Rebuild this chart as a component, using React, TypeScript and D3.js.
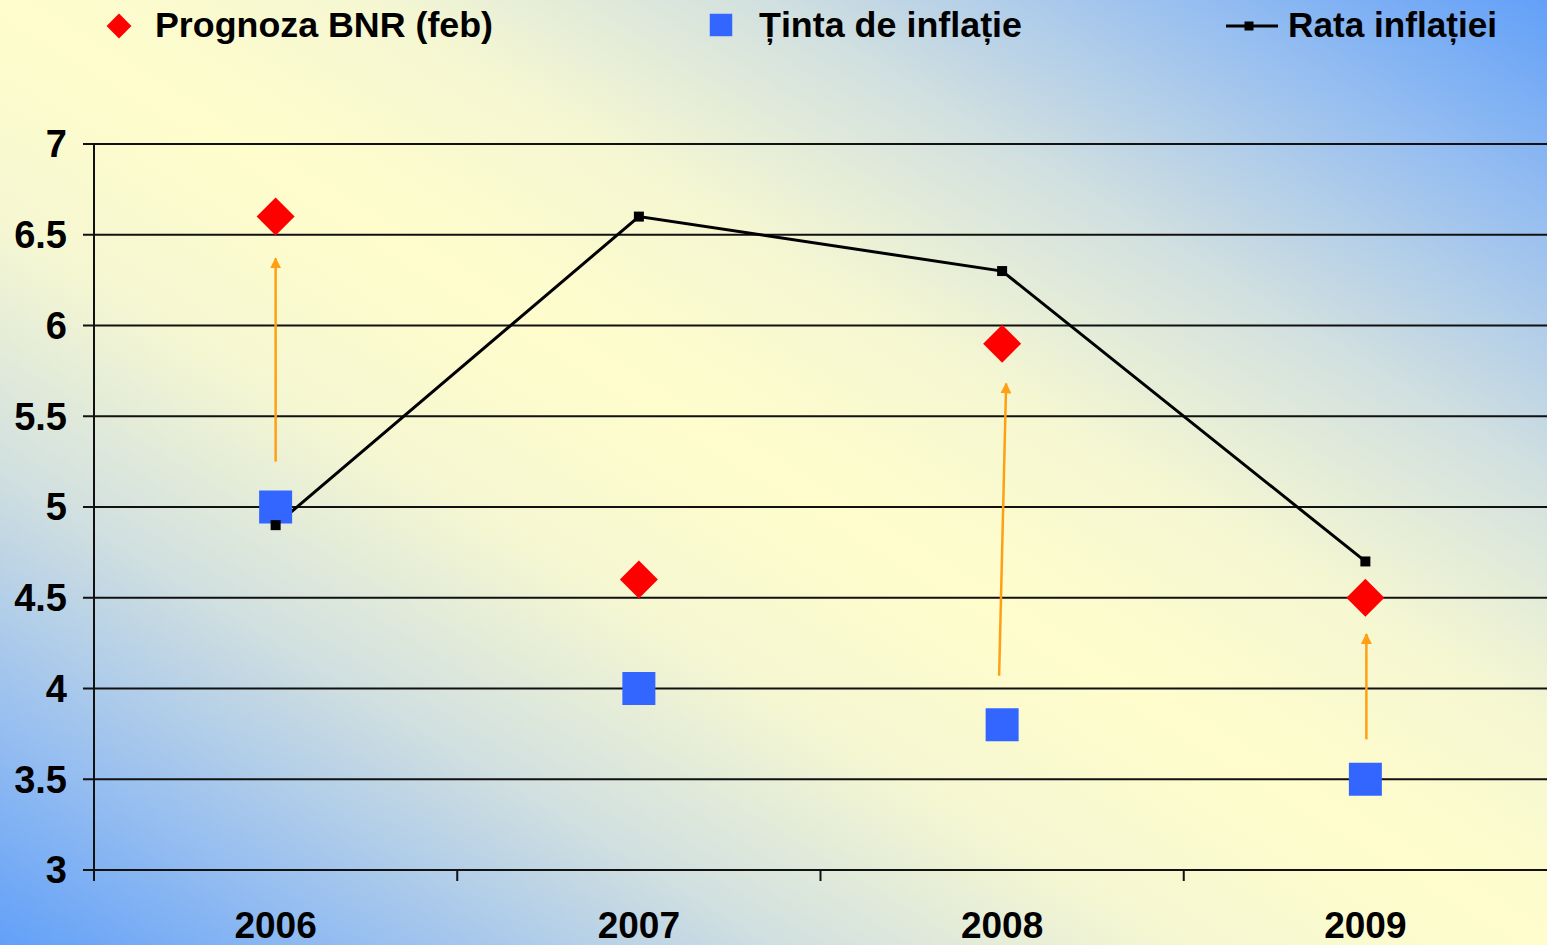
import * as d3 from 'd3'
import React from 'react'

// categories and series
const years = ['2006', '2007', '2008', '2009']
const prognoza = [6.6, 4.6, 5.9, 4.5]
const tinta = [5.0, 4.0, 3.8, 3.5]
const rata = [4.9, 6.6, 6.3, 4.7]

// orange annotation arrows: from target up towards forecast
const arrowYears = ['2006', '2008', '2009']
const arrowFrom = [5.25, 4.07, 3.72]
const arrowTo = [6.37, 5.68, 4.3]
const arrowShiftFrom = [0, -3, 1]
const arrowShiftTo = [0, 4, 1]

const yTicks = [3, 3.5, 4, 4.5, 5, 5.5, 6, 6.5, 7]
const legendLabels = ['Prognoza BNR (feb)', 'Ținta de inflație', 'Rata inflației']

const W = 1547
const H = 945
const FONT = '"Liberation Sans", Arial, sans-serif'

const App = (): JSX.Element => {
    const left = 94
    const top = 144
    const bottom = 870

    const x = d3.scaleBand().domain(years).range([left, W]).padding(0)
    const y = d3.scaleLinear().domain([3, 7]).range([bottom, top])
    const cx = (yr: string) => (x(yr) as number) + x.bandwidth() / 2

    const line = d3
        .line<number>()
        .x((_, i) => cx(years[i]))
        .y((d) => y(d))

    const diamond = d3.symbol(d3.symbolSquare, 722)()
    const diamondSmall = d3.symbol(d3.symbolSquare, 310)()
    const blueSq = d3.symbol(d3.symbolSquare, 1089)()
    const blueSqSmall = d3.symbol(d3.symbolSquare, 506)()
    const blackSq = d3.symbol(d3.symbolSquare, 100)()
    const blackSqSmall = d3.symbol(d3.symbolSquare, 81)()

    return (
        <div style={{ position: 'fixed', left: 0, top: 0 }}>
            <svg width={W} height={H} style={{ display: 'block' }}>
                <defs>
                    <linearGradient id="bg" x1="0" y1="1" x2="1" y2="0">
                        <stop offset="0" stopColor="#62a0f8" />
                        <stop offset="0.12" stopColor="#98bff0" />
                        <stop offset="0.25" stopColor="#d0dfe0" />
                        <stop offset="0.38" stopColor="#f5f7d2" />
                        <stop offset="0.5" stopColor="#fffdcc" />
                        <stop offset="0.62" stopColor="#f5f7d2" />
                        <stop offset="0.75" stopColor="#d0dfe0" />
                        <stop offset="0.88" stopColor="#98bff0" />
                        <stop offset="1" stopColor="#62a0f8" />
                    </linearGradient>
                    <marker
                        id="arrowhead"
                        viewBox="0 0 10 10"
                        refX="9"
                        refY="5"
                        markerUnits="userSpaceOnUse"
                        markerWidth="11"
                        markerHeight="11"
                        orient="auto"
                    >
                        <path d="M0,0 L10,5 L0,10 Z" fill="#ffa012" />
                    </marker>
                </defs>
                <rect x={0} y={0} width={W} height={H} fill="url(#bg)" />

                {/* gridlines */}
                {yTicks.map((t) => (
                    <line
                        key={`g${t}`}
                        x1={left - 11}
                        x2={W}
                        y1={y(t)}
                        y2={y(t)}
                        stroke="#111"
                        strokeWidth={2}
                    />
                ))}
                {/* y axis */}
                <line x1={left} x2={left} y1={top} y2={bottom + 11} stroke="#111" strokeWidth={2} />
                {/* x ticks between categories */}
                {years.slice(1).map((yr) => (
                    <line
                        key={`xt${yr}`}
                        x1={x(yr)}
                        x2={x(yr)}
                        y1={bottom}
                        y2={bottom + 11}
                        stroke="#111"
                        strokeWidth={2}
                    />
                ))}

                {/* y tick labels */}
                {yTicks.map((t) => (
                    <text
                        key={`yl${t}`}
                        x={67}
                        y={y(t)}
                        dy="0.35em"
                        textAnchor="end"
                        fontFamily={FONT}
                        fontWeight="bold"
                        fontSize={38}
                        fill="#000"
                    >
                        {t}
                    </text>
                ))}
                {/* x labels */}
                {years.map((yr) => (
                    <text
                        key={`xl${yr}`}
                        x={cx(yr)}
                        y={938}
                        textAnchor="middle"
                        fontFamily={FONT}
                        fontWeight="bold"
                        fontSize={37}
                        fill="#000"
                    >
                        {yr}
                    </text>
                ))}

                {/* inflation rate line */}
                <path d={line(rata) || ''} fill="none" stroke="#000" strokeWidth={3} />

                {/* arrows */}
                {arrowYears.map((yr, i) => (
                    <line
                        key={`ar${yr}`}
                        x1={cx(yr) + arrowShiftFrom[i]}
                        x2={cx(yr) + arrowShiftTo[i]}
                        y1={y(arrowFrom[i])}
                        y2={y(arrowTo[i])}
                        stroke="#ffa012"
                        strokeWidth={2.5}
                        markerEnd="url(#arrowhead)"
                    />
                ))}

                {/* target squares */}
                {tinta.map((v, i) => (
                    <path key={`t${i}`} d={blueSq || ''} transform={`translate(${cx(years[i])},${y(v)})`} fill="#3366ff" />
                ))}
                {/* rate markers */}
                {rata.map((v, i) => (
                    <path key={`r${i}`} d={blackSq || ''} transform={`translate(${cx(years[i])},${y(v)})`} fill="#000" />
                ))}
                {/* forecast diamonds */}
                {prognoza.map((v, i) => (
                    <path
                        key={`p${i}`}
                        d={diamond || ''}
                        transform={`translate(${cx(years[i])},${y(v)}) rotate(45)`}
                        fill="#ff0000"
                    />
                ))}

                {/* legend */}
                <path d={diamondSmall || ''} transform="translate(119,26) rotate(45)" fill="#ff0000" />
                <text x={155} y={37} fontFamily={FONT} fontWeight="bold" fontSize={35} textLength={338} lengthAdjust="spacingAndGlyphs">
                    {legendLabels[0]}
                </text>
                <path d={blueSqSmall || ''} transform="translate(721,25)" fill="#3366ff" />
                <text x={759} y={37} fontFamily={FONT} fontWeight="bold" fontSize={35} textLength={263} lengthAdjust="spacingAndGlyphs">
                    {legendLabels[1]}
                </text>
                <line x1={1226} x2={1278} y1={26} y2={26} stroke="#000" strokeWidth={3} />
                <path d={blackSqSmall || ''} transform="translate(1249,26)" fill="#000" />
                <text x={1288} y={37} fontFamily={FONT} fontWeight="bold" fontSize={35} textLength={209} lengthAdjust="spacingAndGlyphs">
                    {legendLabels[2]}
                </text>
            </svg>
        </div>
    )
}

export default App
